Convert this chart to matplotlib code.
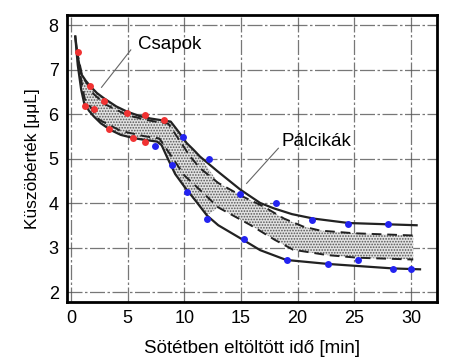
import numpy as np
import matplotlib.pyplot as plt

plt.rcParams['font.family'] = ['Liberation Sans', 'DejaVu Sans']

# mérési pontok (csapok = piros, pálcikák = kék)
cone_t = [0.6, 1.7, 1.26, 2.05, 2.96, 3.37, 4.98, 5.5, 6.5, 6.5, 8.2]
cone_v = [7.39, 6.64, 6.19, 6.11, 6.30, 5.66, 6.02, 5.46, 5.97, 5.38, 5.87]

rod_t = [7.39, 9.85, 8.94, 12.14, 10.23, 14.89, 11.96, 18.1, 15.3, 21.26,
         24.45, 27.94, 19.05, 22.7, 25.3, 28.4, 30.0]
rod_v = [5.27, 5.48, 4.85, 4.99, 4.25, 4.20, 3.63, 4.01, 3.18, 3.62,
         3.52, 3.52, 2.72, 2.63, 2.73, 2.52, 2.52]

# határgörbék
upper_t = [0.38, 0.6, 0.88, 1.3, 1.76, 2.3, 2.93, 4.0, 4.98, 6.0, 7.0, 8.0, 8.8,
           9.5, 10.2, 10.8, 11.4, 12.9, 14.95, 16.7, 17.9, 19.5, 21.4, 24.5, 30.5]
upper_v = [7.74, 7.3, 6.91, 6.75, 6.61, 6.47, 6.35, 6.17, 6.05, 5.96, 5.9, 5.86, 5.83,
           5.6, 5.35, 5.2, 5.04, 4.72, 4.3, 4.0, 3.88, 3.75, 3.65, 3.55, 3.5]

lower_t = [0.38, 0.6, 0.9, 1.17, 1.6, 2.0, 2.64, 3.5, 4.4, 5.5, 6.45, 7.6, 8.0,
           8.5, 9.2, 10.0, 11.0, 12.0, 13.0, 15.2, 16.7, 19.0, 22.7, 28.4, 30.8]
lower_v = [7.74, 7.1, 6.55, 6.24, 6.07, 5.95, 5.79, 5.64, 5.53, 5.46, 5.42, 5.38, 5.3,
           5.02, 4.65, 4.37, 4.05, 3.72, 3.5, 3.17, 2.94, 2.72, 2.63, 2.53, 2.51]

upper_dash_t = [0.5, 1.0, 2.0, 3.0, 5.0, 7.0, 8.6, 9.6, 10.5, 11.4, 13.0, 15.2,
                17.0, 18.8, 20.5, 22.0, 25.0, 30.2]
upper_dash_v = [7.45, 6.85, 6.45, 6.22, 5.97, 5.85, 5.78, 5.4, 5.05, 4.78, 4.45, 4.14,
                3.92, 3.65, 3.47, 3.38, 3.32, 3.27]

lower_dash_t = [0.6, 1.2, 2.5, 4.4, 6.5, 7.8, 9.0, 10.0, 11.4, 13.0, 15.8, 18.0,
                19.6, 22.6, 25.3, 30.2]
lower_dash_v = [7.2, 6.35, 5.87, 5.62, 5.5, 5.45, 5.0, 4.62, 4.29, 3.9, 3.51, 3.17,
                2.95, 2.83, 2.77, 2.73]

# pontozott sáv
band_top_t = upper_t[:17] + upper_dash_t[10:]
band_top_v = upper_v[:17] + upper_dash_v[10:]
band_bot_t = lower_t[:18] + lower_dash_t[9:]
band_bot_v = lower_v[:18] + lower_dash_v[9:]

fig = plt.figure(figsize=(4.61, 3.63), dpi=100)
ax = fig.add_axes([0.1453, 0.168, 0.8027, 0.7907])

poly_t = band_top_t + band_bot_t[::-1]
poly_v = band_top_v + band_bot_v[::-1]
plt.rcParams['hatch.linewidth'] = 0.8
ax.fill(poly_t, poly_v, facecolor="#e2e2e2", edgecolor="#555555",
        hatch="......", linewidth=0, zorder=1)

ax.plot(upper_t, upper_v, color="#222222", lw=1.6, zorder=3)
ax.plot(lower_t, lower_v, color="#222222", lw=1.6, zorder=3)
ax.plot(upper_dash_t, upper_dash_v, color="#222222", lw=1.4, ls=(0, (5, 3)), zorder=3)
ax.plot(lower_dash_t, lower_dash_v, color="#222222", lw=1.4, ls=(0, (5, 3)), zorder=3)

ax.plot(cone_t, cone_v, "o", color="#f03232", ms=5, mec="none", zorder=4)
ax.plot(rod_t, rod_v, "o", color="#2323f0", ms=5, mec="none", zorder=4)

# feliratok
ax.plot([5.28, 2.7], [7.44, 6.6], color="#666666", lw=0.8, zorder=3)
ax.text(5.9, 7.57, "Csapok", fontsize=13.5, va="center", ha="left")
ax.plot([18.3, 15.5], [5.23, 4.44], color="#666666", lw=0.8, zorder=3)
ax.text(18.6, 5.39, "Pálcikák", fontsize=13.5, va="center", ha="left")

ax.set_xlim(-0.35, 32.3)
ax.set_ylim(1.775, 8.225)
ax.set_xticks([0, 5, 10, 15, 20, 25, 30])
ax.set_yticks([2, 3, 4, 5, 6, 7, 8])
ax.grid(True, color="#555555", lw=0.9, ls=(0, (12, 2, 2, 2)), alpha=0.8)
ax.set_axisbelow(True)
ax.tick_params(length=0, labelsize=13, pad=6)
for s in ax.spines.values():
    s.set_linewidth(2)
    s.set_color("black")

ax.set_xlabel("Sötétben eltöltött idő [min]", fontsize=13.5, labelpad=9)
ax.set_ylabel("Küszöbérték [μμL]", fontsize=12.5, labelpad=6)

fig.savefig("out.png", dpi=100)
